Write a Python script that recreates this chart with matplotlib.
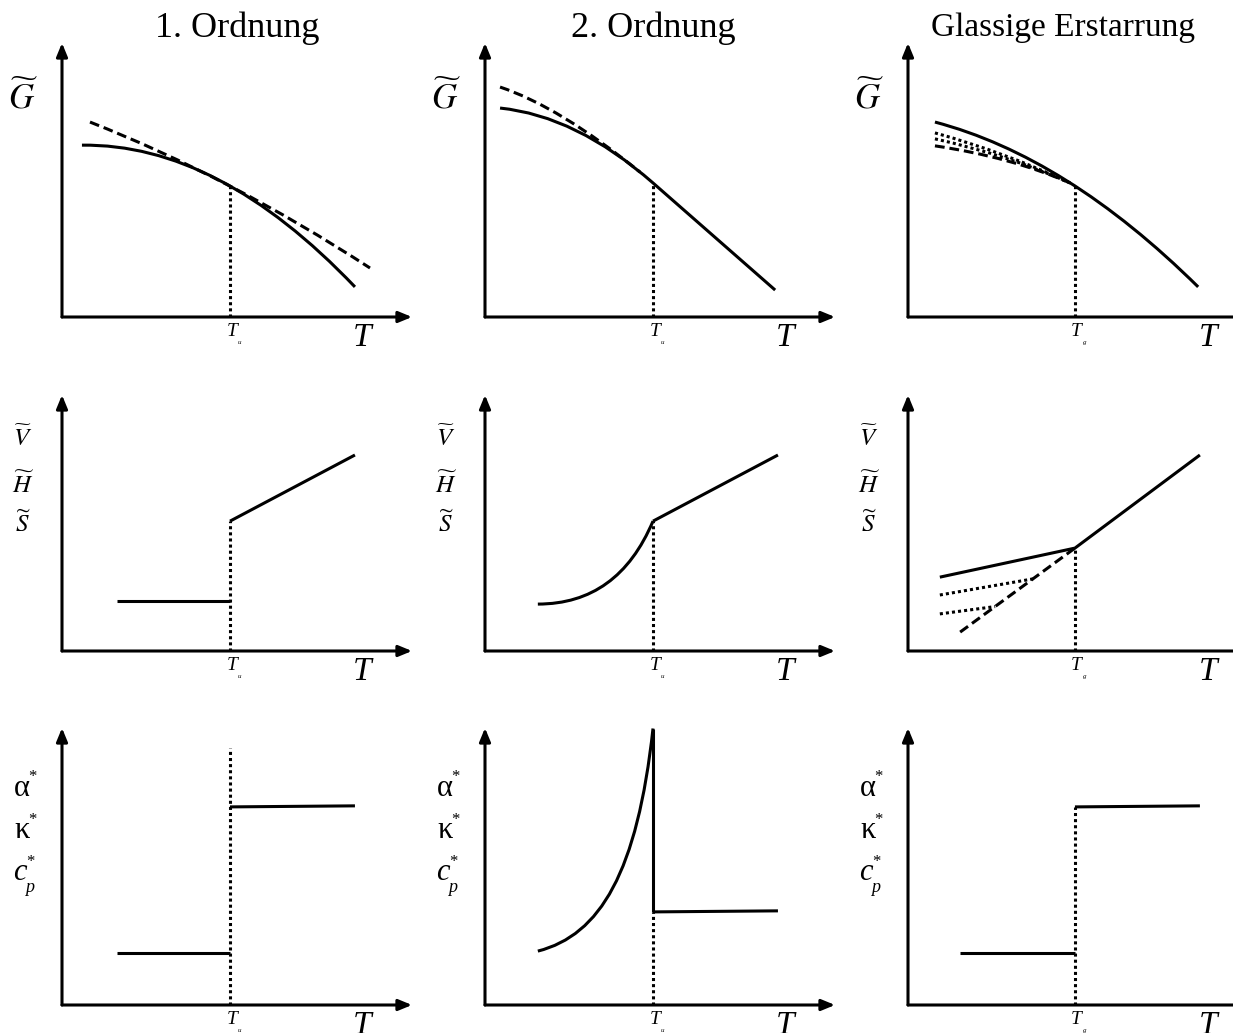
import matplotlib
matplotlib.use('Agg')
import matplotlib.pyplot as plt
from matplotlib.path import Path
from matplotlib.patches import PathPatch

plt.rcParams['font.family'] = ['Liberation Serif', 'DejaVu Serif']
plt.rcParams['mathtext.fontset'] = 'stix'

# ---------------- data (T in arbitrary units 0..100 along each T axis) -------------
titles = ["1. Ordnung", "2. Ordnung", "Glassige Erstarrung"]
row_labels = [[r"$\widetilde{G}$"],
              [r"$\widetilde{V}$", r"$\widetilde{H}$", r"$\widetilde{S}$"],
              ["α", "κ", "c"]]
tick_sub = ["u", "u", "g"]
T_trans = [48.0, 48.0, 47.7]

# Row 1 : Gibbs energy (curve control points: start, control, end[, line end])
g1_solid_T = [5.7, 44.7, 83.7]
g1_solid_y = [49.1, 49.6, 8.6]
g1_dash_T = [8.0, 48.0, 88.0]
g1_dash_y = [55.7, 40.0, 14.0]
g1_cross_y = 37.4

g2_solid_T = [4.3, 26.1, 48.0, 82.9]
g2_solid_y = [59.7, 57.5, 38.3, 7.7]
g2_dash_T = [4.3, 21.2, 44.3]
g2_dash_y = [65.7, 60.1, 41.4]

g3_solid_T = [7.7, 45.3, 82.9]
g3_solid_y = [55.7, 45.8, 8.6]
g3_meet_y = 37.4
g3_dash_T = [7.7, 29.4, 46.3]
g3_dash_y = [48.9, 45.7, 38.3]
g3_dot1_T = [7.7, 27.7, 46.3]
g3_dot1_y = [52.6, 47.1, 38.3]
g3_dot2_T = [7.7, 28.6, 46.3]
g3_dot2_y = [50.9, 46.3, 38.3]

# Row 2 : V, H, S
v1_low_T = [15.7, 48.0]
v1_low_y = [14.3, 14.3]
v1_high_T = [48.0, 83.7]
v1_high_y = [37.1, 56.0]

v2_curve_T = [15.1, 38.0, 48.0]
v2_curve_y = [13.4, 13.4, 37.1]
v2_line_T = [48.0, 83.7]
v2_line_y = [37.1, 56.0]

v3_solid_T = [9.1, 47.7, 83.4]
v3_solid_y = [21.1, 29.4, 56.0]
v3_dash_T = [14.9, 47.7]
v3_dash_y = [5.4, 29.4]
v3_dot1_T = [9.1, 35.7]
v3_dot1_y = [16.0, 20.6]
v3_dot2_T = [9.1, 24.9]
v3_dot2_y = [10.6, 12.7]

# Row 3 : alpha, kappa, cp
c1_low_T = [15.7, 48.0]
c1_low_y = [14.9, 14.9]
c1_high_T = [48.0, 83.7]
c1_high_y = [56.6, 56.9]
c1_dot_top = 73.4

c2_curve_T = [15.1, 33.0, 43.5, 48.0]
c2_curve_y = [15.4, 20.0, 38.0, 79.0]
c2_line_T = [48.0, 83.7]
c2_line_y = [26.6, 26.9]

c3_low_T = [14.9, 47.7]
c3_low_y = [14.9, 14.9]
c3_high_T = [47.7, 83.4]
c3_high_y = [56.6, 56.9]

# ---------------- layout ----------------
W, H = 1233, 1033
fig = plt.figure(figsize=(W / 100, H / 100), dpi=100)
col_x0 = [62, 485, 908]
row_y0 = [317, 651, 1005]
row_top = [43, 395, 728]
UNIT = 3.5  # px per unit
LW = 2.2
DASH = (0, (3.2, 1.6))
DOT = (0, (1.0, 1.0))


def fx(px):
    return px / W


def fy(py):
    return 1 - py / H


def curve(ax, T, y, ls='-', tail_line=False):
    pts = list(zip(T, y))
    if tail_line:
        codes = [Path.MOVETO, Path.CURVE3, Path.CURVE3, Path.LINETO]
    elif len(pts) == 3:
        codes = [Path.MOVETO, Path.CURVE3, Path.CURVE3]
    else:
        codes = [Path.MOVETO, Path.CURVE4, Path.CURVE4, Path.CURVE4]
    p = PathPatch(Path(pts, codes), fill=False, edgecolor='k', lw=LW, ls=ls,
                  capstyle='butt', joinstyle='round')
    ax.add_patch(p)


axes = {}
for r in range(3):
    for c in range(3):
        x0 = col_x0[c]
        y0 = row_y0[r]
        h = y0 - row_top[r]
        ax = fig.add_axes([fx(x0), fy(y0), 350 / W, h / H])
        ax.set_xlim(0, 100)
        ax.set_ylim(0, h / UNIT)
        ax.axis('off')
        ap = dict(arrowstyle='-|>,head_length=0.8,head_width=0.33', lw=LW,
                  color='k', shrinkA=0, shrinkB=0)
        ax.annotate('', xy=(1, 0), xytext=(0, 0), xycoords='axes fraction',
                    textcoords='axes fraction', arrowprops=ap, annotation_clip=False)
        ax.annotate('', xy=(0, 1), xytext=(0, 0), xycoords='axes fraction',
                    textcoords='axes fraction', arrowprops=ap, annotation_clip=False)
        # tick label T_x
        ax.annotate('T', xy=(T_trans[c], 0), xytext=(1.2, -10.5), textcoords='offset points',
                    ha='center', va='center', fontsize=14, style='italic')
        ax.annotate(tick_sub[c], xy=(T_trans[c], 0), xytext=(7.0, -18.5),
                    textcoords='offset points', ha='center', va='center',
                    fontsize=5, style='italic')
        # axis label T
        fig.text(fx(x0 + 300), fy(y0 + 21), 'T', ha='center', va='center',
                 fontsize=24, style='italic')
        axes[(r, c)] = ax

# titles
for c, t in enumerate(titles):
    fig.text(fx([237, 653, 1063][c]), fy(28), t, ha='center', va='center',
             fontsize=[26, 26, 24][c])

# y labels
for c in range(3):
    lx = col_x0[c] - 39
    fig.text(fx(lx), fy(98), row_labels[0][0], ha='center', va='center', fontsize=25)
    for lab, yy in zip(row_labels[1], [438, 485, 524]):
        fig.text(fx(lx), fy(yy), lab, ha='center', va='center', fontsize=18)
    # alpha, kappa, c_p with stars
    fig.text(fx(lx - 1), fy(789), row_labels[2][0], ha='center', va='center', fontsize=22)
    fig.text(fx(lx + 9), fy(777), '*', ha='center', va='center', fontsize=12)
    fig.text(fx(lx - 1), fy(831), row_labels[2][1], ha='center', va='center', fontsize=22)
    fig.text(fx(lx + 9), fy(820), '*', ha='center', va='center', fontsize=12)
    fig.text(fx(lx - 3), fy(872), row_labels[2][2], ha='center', va='center', fontsize=22,
             style='italic')
    fig.text(fx(lx + 7), fy(887), 'p', ha='center', va='center', fontsize=13,
             style='italic')
    fig.text(fx(lx + 7), fy(862), '*', ha='center', va='center', fontsize=12)

kw = dict(color='k', lw=LW, solid_capstyle='butt', dash_capstyle='butt')

# Row 1
ax = axes[(0, 0)]
curve(ax, g1_solid_T, g1_solid_y)
curve(ax, g1_dash_T, g1_dash_y, ls=DASH)
ax.plot([T_trans[0]] * 2, [0, g1_cross_y], ls=DOT, **kw)

ax = axes[(0, 1)]
curve(ax, g2_solid_T, g2_solid_y, tail_line=True)
curve(ax, g2_dash_T, g2_dash_y, ls=DASH)
ax.plot([T_trans[1]] * 2, [0, g2_solid_y[2]], ls=DOT, **kw)

ax = axes[(0, 2)]
curve(ax, g3_solid_T, g3_solid_y)
curve(ax, g3_dash_T, g3_dash_y, ls=DASH)
curve(ax, g3_dot1_T, g3_dot1_y, ls=DOT)
curve(ax, g3_dot2_T, g3_dot2_y, ls=DOT)
ax.plot([T_trans[2]] * 2, [0, g3_meet_y], ls=DOT, **kw)

# Row 2
ax = axes[(1, 0)]
ax.plot(v1_low_T, v1_low_y, **kw)
ax.plot(v1_high_T, v1_high_y, **kw)
ax.plot([T_trans[0]] * 2, [0, v1_high_y[0]], ls=DOT, **kw)

ax = axes[(1, 1)]
curve(ax, v2_curve_T, v2_curve_y)
ax.plot(v2_line_T, v2_line_y, **kw)
ax.plot([T_trans[1]] * 2, [0, v2_line_y[0]], ls=DOT, **kw)

ax = axes[(1, 2)]
ax.plot(v3_solid_T, v3_solid_y, **kw)
ax.plot(v3_dash_T, v3_dash_y, ls=DASH, **kw)
ax.plot(v3_dot1_T, v3_dot1_y, ls=DOT, **kw)
ax.plot(v3_dot2_T, v3_dot2_y, ls=DOT, **kw)
ax.plot([T_trans[2]] * 2, [0, v3_solid_y[1]], ls=DOT, **kw)

# Row 3
ax = axes[(2, 0)]
ax.plot(c1_low_T, c1_low_y, **kw)
ax.plot(c1_high_T, c1_high_y, **kw)
ax.plot([T_trans[0]] * 2, [0, c1_dot_top], ls=DOT, **kw)

ax = axes[(2, 1)]
curve(ax, c2_curve_T, c2_curve_y)
ax.plot([T_trans[1]] * 2, [c2_curve_y[-1], c2_line_y[0]], **kw)
ax.plot(c2_line_T, c2_line_y, **kw)
ax.plot([T_trans[1]] * 2, [0, c2_line_y[0]], ls=DOT, **kw)

ax = axes[(2, 2)]
ax.plot(c3_low_T, c3_low_y, **kw)
ax.plot(c3_high_T, c3_high_y, **kw)
ax.plot([T_trans[2]] * 2, [0, c3_high_y[0]], ls=DOT, **kw)

fig.savefig('out.png', dpi=100)
